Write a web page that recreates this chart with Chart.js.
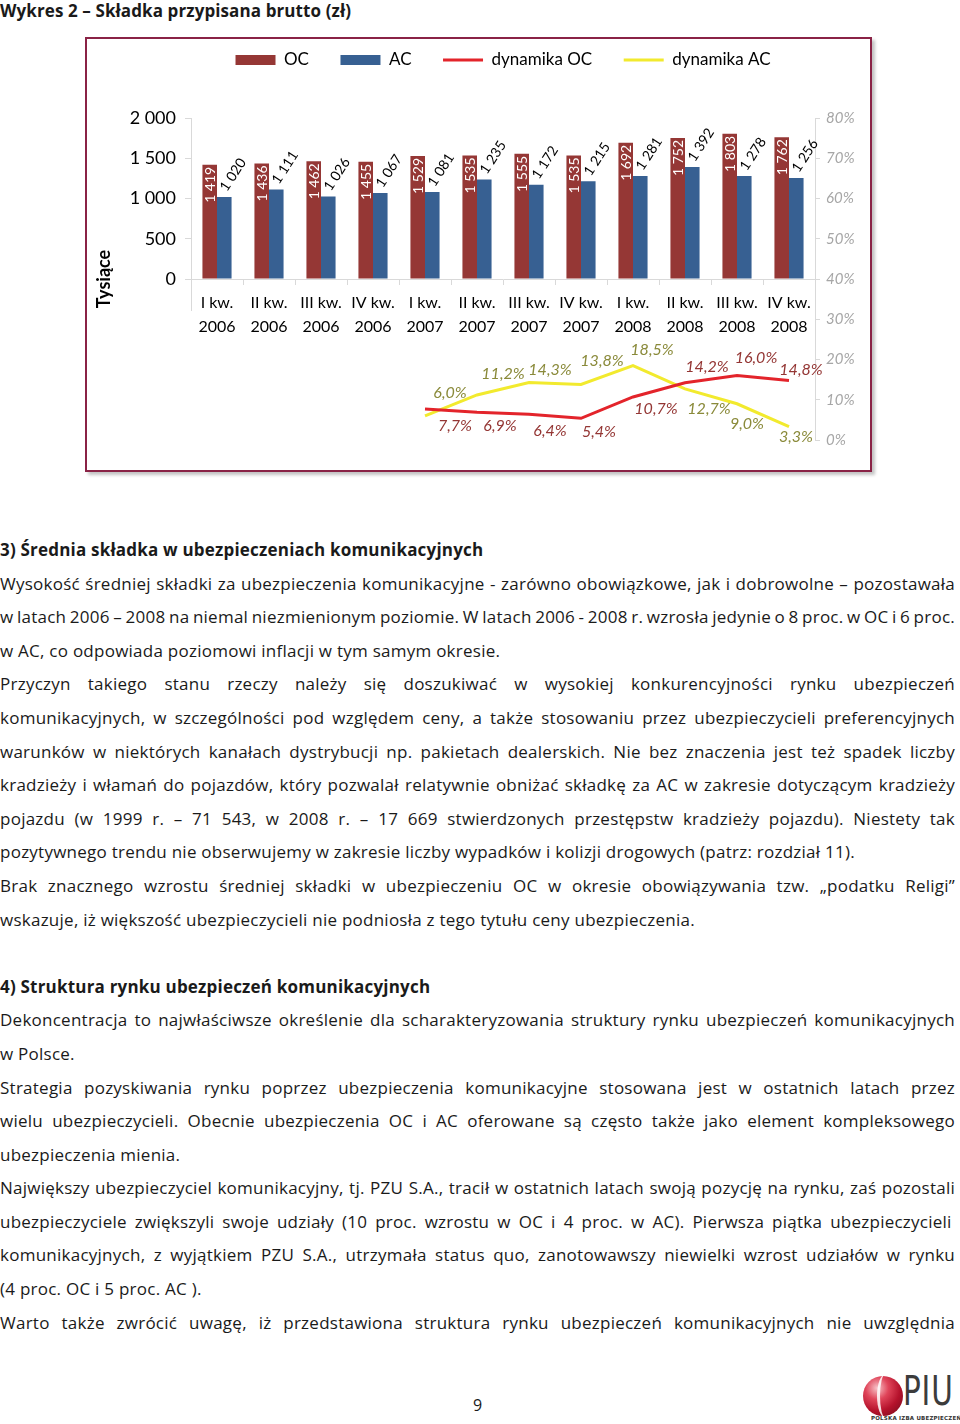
<!DOCTYPE html>
<html><head><meta charset="utf-8">
<script src="https://cdn.jsdelivr.net/npm/chart.js@4.4.0/dist/chart.umd.min.js"></script>
<style>
html,body{margin:0;padding:0;background:#fff;}
#page{position:relative;width:960px;height:1424px;overflow:hidden;font-family:"Open Sans",sans-serif;color:#1a1a1a;}
#title{position:absolute;left:0;top:0;font-weight:bold;font-size:17px;line-height:22px;white-space:nowrap;letter-spacing:0.1px;}
#frame{position:absolute;left:85px;top:37px;width:787px;height:435px;box-sizing:border-box;border:2px solid #8a2346;box-shadow:3px 3px 3px #c4c4c4;}
#cv{position:absolute;left:87px;top:20px;}
#text{position:absolute;left:0;top:533px;width:955px;font-size:17px;letter-spacing:0.25px;}
.l{height:33.6px;line-height:33.6px;white-space:nowrap;}
.h{font-weight:bold;letter-spacing:0.2px;}
#pnum{position:absolute;left:473px;top:1394px;font-size:16px;}
#logo-ball{position:absolute;left:863px;top:1376px;width:40px;height:40px;border-radius:50%;
 background:radial-gradient(circle at 35% 30%, #f7c3c8 0%, #e0455a 30%, #b5122c 60%, #6d0a1a 100%);}
#logo-ball::after{content:"";position:absolute;left:14px;top:-2px;width:14px;height:44px;border-left:3px solid rgba(255,255,255,0.85);border-radius:50%;}
#logo-piu{position:absolute;left:903px;top:1368px;font-family:"DejaVu Sans Condensed","DejaVu Sans",sans-serif;font-size:40px;line-height:46px;color:#3c3c3c;transform:scaleX(0.82);transform-origin:left top;letter-spacing:1px;}
#logo-sub{position:absolute;left:871px;top:1415px;font-family:"DejaVu Sans",sans-serif;font-size:5.5px;font-weight:bold;color:#333;white-space:nowrap;letter-spacing:0.2px;}
</style></head>
<body>
<div id="page">
  <div id="title">Wykres 2 – Składka przypisana brutto (zł)</div>
  <div id="frame"></div>
  <canvas id="cv" width="783" height="450"></canvas>
  <div id="text">
    <div class="l h">3) Średnia składka w ubezpieczeniach komunikacyjnych</div>
    <div class="l j"><span>Wysokość średniej składki za ubezpieczenia komunikacyjne - zarówno obowiązkowe, jak i dobrowolne – pozostawała</span></div>
    <div class="l j"><span>w latach 2006 – 2008 na niemal niezmienionym poziomie. W latach 2006 - 2008 r. wzrosła jedynie o 8 proc. w OC i 6 proc.</span></div>
    <div class="l">w AC, co odpowiada poziomowi inflacji w tym samym okresie.</div>
    <div class="l j"><span>Przyczyn takiego stanu rzeczy należy się doszukiwać w wysokiej konkurencyjności rynku ubezpieczeń</span></div>
    <div class="l j"><span>komunikacyjnych, w szczególności pod względem ceny, a także stosowaniu przez ubezpieczycieli preferencyjnych</span></div>
    <div class="l j"><span>warunków w niektórych kanałach dystrybucji np. pakietach dealerskich. Nie bez znaczenia jest też spadek liczby</span></div>
    <div class="l j"><span>kradzieży i włamań do pojazdów, który pozwalał relatywnie obniżać składkę za AC w zakresie dotyczącym kradzieży</span></div>
    <div class="l j"><span>pojazdu (w 1999 r. – 71 543, w 2008 r. – 17 669 stwierdzonych przestępstw kradzieży pojazdu). Niestety tak</span></div>
    <div class="l">pozytywnego trendu nie obserwujemy w zakresie liczby wypadków i kolizji drogowych (patrz: rozdział 11).</div>
    <div class="l j"><span>Brak znacznego wzrostu średniej składki w ubezpieczeniu OC w okresie obowiązywania tzw. „podatku Religi”</span></div>
    <div class="l">wskazuje, iż większość ubezpieczycieli nie podniosła z tego tytułu ceny ubezpieczenia.</div>
    <div class="l"></div>
    <div class="l h">4) Struktura rynku ubezpieczeń komunikacyjnych</div>
    <div class="l j"><span>Dekoncentracja to najwłaściwsze określenie dla scharakteryzowania struktury rynku ubezpieczeń komunikacyjnych</span></div>
    <div class="l">w Polsce.</div>
    <div class="l j"><span>Strategia pozyskiwania rynku poprzez ubezpieczenia komunikacyjne stosowana jest w ostatnich latach przez</span></div>
    <div class="l j"><span>wielu ubezpieczycieli. Obecnie ubezpieczenia OC i AC oferowane są często także jako element kompleksowego</span></div>
    <div class="l">ubezpieczenia mienia.</div>
    <div class="l j"><span>Największy ubezpieczyciel komunikacyjny, tj. PZU S.A., tracił w ostatnich latach swoją pozycję na rynku, zaś pozostali</span></div>
    <div class="l j"><span>ubezpieczyciele zwiększyli swoje udziały (10 proc. wzrostu w OC i 4 proc. w AC).  Pierwsza piątka ubezpieczycieli</span></div>
    <div class="l j"><span>komunikacyjnych, z wyjątkiem PZU S.A., utrzymała status quo, zanotowawszy niewielki wzrost udziałów w rynku</span></div>
    <div class="l">(4 proc. OC i 5 proc. AC ).</div>
    <div class="l j"><span>Warto także zwrócić uwagę, iż przedstawiona struktura rynku ubezpieczeń komunikacyjnych nie uwzględnia</span></div>
  </div>
  <div id="pnum">9</div>
  <div id="logo-ball"></div>
  <div id="logo-piu">PIU</div>
  <div id="logo-sub">POLSKA IZBA UBEZPIECZEŃ</div>
</div>
<script>
// ---- data ----
const categories = [
  ['I kw.','2006'],['II kw.','2006'],['III kw.','2006'],['IV kw.','2006'],
  ['I kw.','2007'],['II kw.','2007'],['III kw.','2007'],['IV kw.','2007'],
  ['I kw.','2008'],['II kw.','2008'],['III kw.','2008'],['IV kw.','2008']
];
const ocValues = [1419,1436,1462,1455,1529,1535,1555,1535,1692,1752,1803,1762];
const acValues = [1020,1111,1026,1067,1081,1235,1172,1215,1281,1392,1278,1256];
const dynOC = [null,null,null,null,7.7,6.9,6.4,5.4,10.7,14.2,16.0,14.8];
const dynAC = [null,null,null,null,6.0,11.2,14.3,13.8,18.5,12.7,9.0,3.3];
const leftAxisMin = -2000, leftAxisMax = 2000, leftStep = 500;
const rightAxisMin = 0, rightAxisMax = 80, rightStep = 10;
const seriesNames = ['OC','AC','dynamika OC','dynamika AC'];
const yTitle = 'Tysiące';

// label offsets (px) for the line value labels — styling only
const ocLabelOffset = [null,null,null,null,[30,17],[23,14],[21,17],[18,14],[23,12],[22,-16],[19,-18],[12,-11]];
const acLabelOffset = [null,null,null,null,[25,-23],[26,-21],[21,-13],[21,-24],[19,-16],[24,20],[10,20],[7,10]];

function fmtThousands(v){
  if (Math.abs(v) >= 1000) return Math.floor(v/1000) + ' ' + String(v % 1000).padStart(3,'0');
  return String(v);
}
function fmtPct(v){ return v.toFixed(1).replace('.', ',') + '%'; }

const labelsPlugin = {
  id: 'valueLabels',
  beforeDatasetsDraw(chart){
    const ctx = chart.ctx, ys = chart.scales.y, x = Math.round(chart.chartArea.left) + 0.5;
    ctx.save();
    ctx.strokeStyle = '#d9d9d9'; ctx.lineWidth = 1;
    ctx.beginPath();
    ctx.moveTo(x, ys.getPixelForValue(leftAxisMax));
    ctx.lineTo(x, ys.getPixelForValue(0) + 32);
    ctx.stroke();
    ctx.restore();
  },
  afterDatasetsDraw(chart){
    const ctx = chart.ctx;
    ctx.save();
    chart.getDatasetMeta(0).data.forEach((bar, i) => {
      ctx.save();
      ctx.translate(bar.x + 0.5, bar.y + 2);
      ctx.rotate(-Math.PI/2);
      ctx.font = '14px Lato'; ctx.fillStyle = '#ffffff';
      ctx.textAlign = 'right'; ctx.textBaseline = 'middle';
      ctx.fillText(fmtThousands(ocValues[i]), 0, 0);
      ctx.restore();
    });
    chart.getDatasetMeta(1).data.forEach((bar, i) => {
      ctx.save();
      ctx.translate(bar.x - 1, bar.y - 7);
      ctx.rotate(-57 * Math.PI/180);
      ctx.font = '14px Lato'; ctx.fillStyle = '#000000';
      ctx.textAlign = 'left'; ctx.textBaseline = 'middle';
      ctx.fillText(fmtThousands(acValues[i]), 0, 0);
      ctx.restore();
    });
    const drawLineLabels = (dsIndex, values, offs, color) => {
      chart.getDatasetMeta(dsIndex).data.forEach((pt, i) => {
        if (values[i] == null) return;
        const [dx, dy] = offs[i];
        ctx.font = 'italic 16px Lato'; ctx.fillStyle = color;
        ctx.textAlign = 'center'; ctx.textBaseline = 'middle';
        ctx.fillText(fmtPct(values[i]), pt.x + dx, pt.y + dy);
      });
    };
    drawLineLabels(2, dynOC, ocLabelOffset, '#943634');
    drawLineLabels(3, dynAC, acLabelOffset, '#8a8a3a');
    ctx.restore();
  }
};

function build(){
  Chart.defaults.font.family = 'Lato';
  Chart.defaults.color = '#000';
  new Chart(document.getElementById('cv'), {
    type: 'bar',
    data: {
      labels: categories,
      datasets: [
        { label: seriesNames[0], data: ocValues, backgroundColor: '#953735', yAxisID: 'y', borderWidth: 0 },
        { label: seriesNames[1], data: acValues, backgroundColor: '#376092', yAxisID: 'y', borderWidth: 0 },
        { type: 'line', label: seriesNames[2], data: dynOC, borderColor: '#e3242b', backgroundColor: '#e3242b', borderWidth: 3, pointRadius: 0, tension: 0, yAxisID: 'y2', spanGaps: false },
        { type: 'line', label: seriesNames[3], data: dynAC, borderColor: '#f2ea2e', backgroundColor: '#f2ea2e', borderWidth: 3, pointRadius: 0, tension: 0, yAxisID: 'y2', spanGaps: false }
      ]
    },
    options: {
      responsive: false, animation: false, devicePixelRatio: 1,
      layout: { padding: { top: 0, left: 0, right: 0, bottom: 30 } },
      datasets: { bar: { categoryPercentage: 0.56, barPercentage: 1.0 } },
      plugins: {
        tooltip: { enabled: false },
        legend: {
          position: 'top', fullSize: false, weight: 3000,
          labels: {
            font: { size: 17 }, color: '#000', padding: 31.5,
            usePointStyle: true, pointStyleWidth: 40, boxHeight: 10,
            generateLabels(chart){
              const items = Chart.defaults.plugins.legend.labels.generateLabels(chart);
              items.forEach((it, i) => {
                if (i < 2) { it.pointStyle = 'rect'; it.lineWidth = 0; }
                else { it.pointStyle = 'line'; it.lineWidth = 3; }
              });
              return items;
            }
          }
        },
        title: { display: true, text: '', font: { size: 1 }, padding: { top: 0, bottom: 38.3 } }
      },
      scales: {
        x: {
          type: 'category',
          position: { y: 0 },
          offset: true,
          grid: { display: true, drawOnChartArea: false, drawTicks: true, tickLength: 5, color: '#d9d9d9', offset: true },
          border: { display: true, color: '#d9d9d9' },
          ticks: { font: { size: 16, lineHeight: 1.5 }, color: '#000', padding: 7, maxRotation: 0, autoSkip: false }
        },
        y: {
          position: 'left', min: leftAxisMin, max: leftAxisMax,
          afterFit(s){ s.width = 104; },
          border: { display: false },
          grid: { drawOnChartArea: false, drawTicks: true, tickLength: 6, color: ctx => (ctx.tick && ctx.tick.value >= 0) ? '#d9d9d9' : 'rgba(0,0,0,0)' },
          ticks: { stepSize: leftStep, font: { size: 18 }, color: '#000', padding: 9, callback: v => v >= 0 ? fmtThousands(v) : '' },
          title: { display: true, text: yTitle, font: { size: 18, weight: 'bold' }, color: '#000', padding: { top: 6, bottom: 0 } }
        },
        y2: {
          position: 'right', min: rightAxisMin, max: rightAxisMax,
          afterFit(s){ s.width = 55; },
          border: { display: true, color: '#d9d9d9' },
          grid: { drawOnChartArea: false, drawTicks: true, tickLength: 5, color: '#d9d9d9' },
          ticks: { stepSize: rightStep, font: { size: 15, style: 'italic' }, color: '#a6a6a6', padding: 6, callback: v => v + '%' }
        }
      }
    },
    plugins: [labelsPlugin]
  });
}

function justify(){
  document.querySelectorAll('.j').forEach(el => {
    const span = el.querySelector('span');
    span.style.wordSpacing = '0px';
    const w = span.getBoundingClientRect().width;
    const spaces = (span.textContent.match(/ /g) || []).length;
    if (spaces > 0) span.style.wordSpacing = ((955 - w) / spaces) + 'px';
  });
}

Promise.all([
  document.fonts.load('16px Lato'), document.fonts.load('italic 16px Lato'), document.fonts.load('bold 18px Lato'),
  document.fonts.load('17px "Open Sans"'), document.fonts.load('bold 17px "Open Sans"')
]).catch(()=>{}).then(() => { justify(); build(); });
</script>
</body></html>
